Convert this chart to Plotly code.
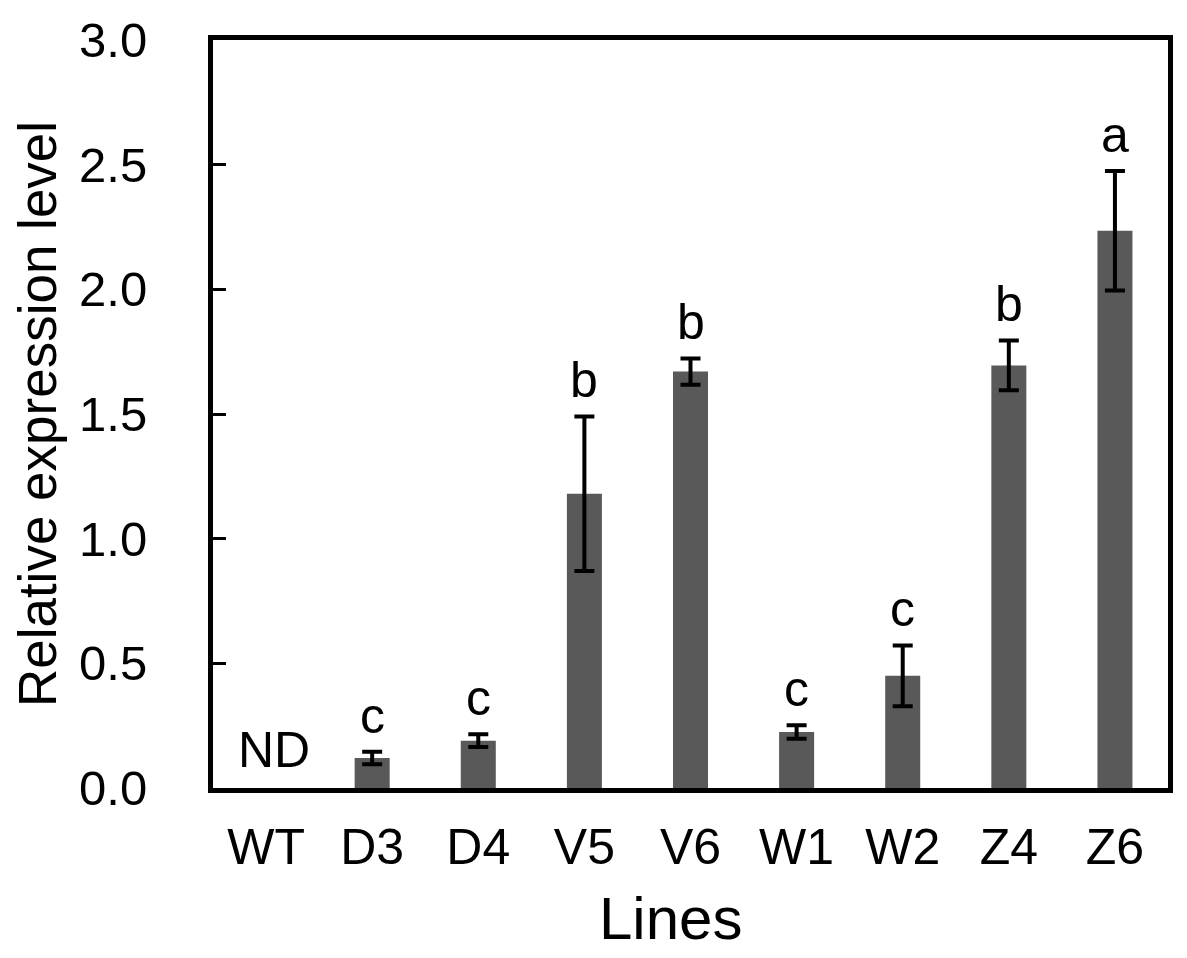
import plotly.graph_objects as go

lines = ["WT", "D3", "D4", "V5", "V6", "W1", "W2", "Z4", "Z6"]
expression = [None, 0.12, 0.19, 1.18, 1.67, 0.225, 0.45, 1.695, 2.235]
errors = [None, 0.025, 0.026, 0.31, 0.053, 0.027, 0.122, 0.10, 0.24]
letters = ["ND", "c", "c", "b", "b", "c", "c", "b", "a"]
y_ticks = [0.0, 0.5, 1.0, 1.5, 2.0, 2.5, 3.0]

FONT = "Liberation Sans, Arial, sans-serif"

fig = go.Figure()
fig.add_trace(go.Bar(
    x=lines, y=expression,
    marker=dict(color="#595959", line=dict(width=0)),
    error_y=dict(type="data", array=errors, visible=True,
                 color="black", thickness=4, width=10),
    width=0.33,
))

for cat, val, err, lab in zip(lines, expression, errors, letters):
    if val is None:
        fig.add_annotation(x=cat, y=0, text=lab, showarrow=False,
                           xref="x", yref="y", yanchor="bottom", xshift=8, yshift=8,
                           font=dict(family=FONT, size=50, color="black"))
    else:
        fig.add_annotation(x=cat, y=val + err, text=lab, showarrow=False,
                           xref="x", yref="y", yanchor="bottom", yshift=6,
                           font=dict(family=FONT, size=50, color="black"))

fig.add_annotation(text="Lines", xref="paper", yref="paper", x=0.5, y=0,
                   xanchor="center", yanchor="middle", xshift=-20, yshift=-130,
                   showarrow=False, font=dict(family=FONT, size=60, color="black"))

fig.update_layout(
    width=1187, height=958,
    margin=dict(l=205, r=27, t=32, b=178),
    plot_bgcolor="white", paper_bgcolor="white",
    showlegend=False,
    font=dict(family=FONT, color="black"),
    xaxis=dict(
        showline=True, linecolor="black", linewidth=5, mirror=True,
        ticks="", tickfont=dict(size=50, family=FONT, color="black"),
        ticklabelstandoff=11, automargin=False,
        showgrid=False,
    ),
    yaxis=dict(
        range=[0, 3], tickvals=y_ticks, tickformat=".1f",
        showline=True, linecolor="black", linewidth=5, mirror=True,
        ticks="inside", ticklen=13, tickwidth=3, tickcolor="black",
        tickfont=dict(size=49, family=FONT, color="black"),
        ticklabelstandoff=51, ticklabeloverflow="allow", automargin=False,
        title=dict(text="Relative expression level", font=dict(size=53, family=FONT, color="black"), standoff=10),
        showgrid=False, zeroline=False,
    ),
)

fig.write_html("out.html")
